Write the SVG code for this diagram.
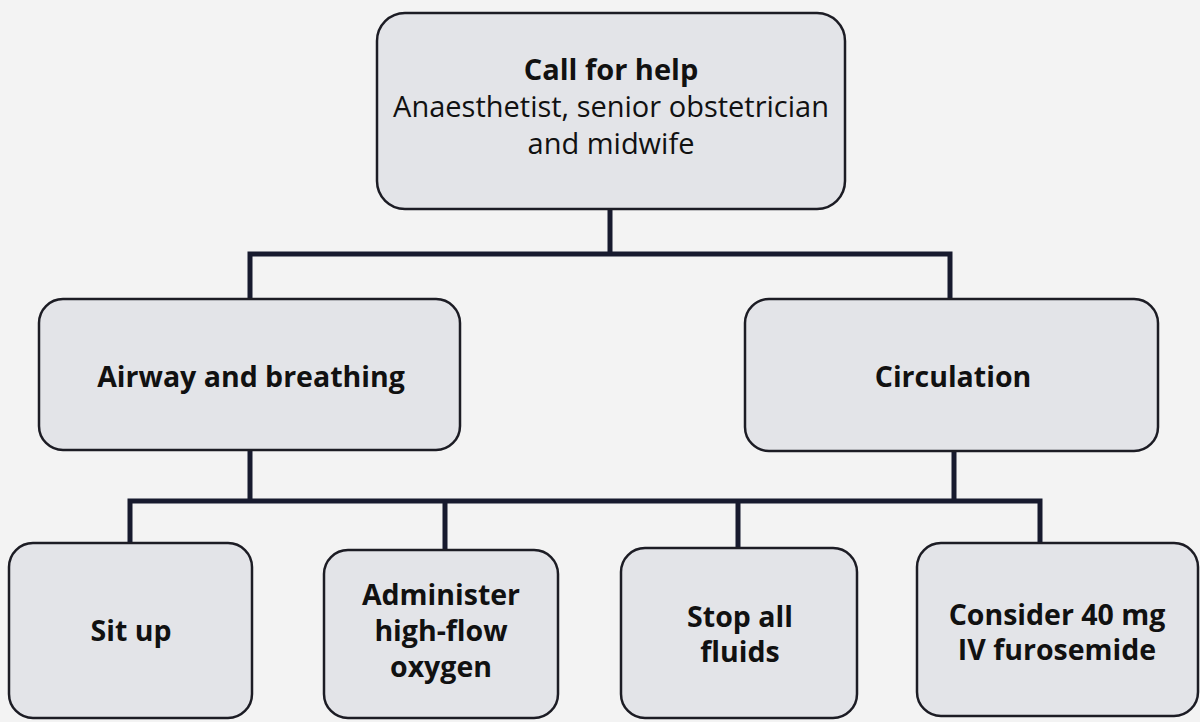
<svg xmlns="http://www.w3.org/2000/svg" width="1200" height="722" viewBox="0 0 1200 722">
<style>
.box{fill:#e3e4e8;stroke:#1c1c24;stroke-width:2.5}
.conn{fill:none;stroke:#171a2e;stroke-width:5;stroke-linejoin:miter;stroke-linecap:square}
text{font-family:"Open Sans","Noto Sans","Liberation Sans",sans-serif;fill:#111;text-anchor:middle}
.b{font-weight:700;font-size:28.5px}
.r{font-weight:400;font-size:29px}
</style>
<rect width="1200" height="722" fill="#f3f3f3"/>
<g id="connectors">
<path class="conn" d="M610 209 V254 M250 299 V254 H950 V299"/>
<path class="conn" d="M250 450 V501 M954 451 V501 M130 543 V501 H1040 V543 M445 550 V501 M738 548 V501"/>
</g>
<g id="call-for-help">
<rect class="box" x="377" y="13" width="468" height="196" rx="28"/>
<text class="b" x="611" y="80" style="font-size:29px">Call for help</text>
<text class="r" x="611" y="117">Anaesthetist, senior obstetrician</text>
<text class="r" x="611" y="154">and midwife</text>
</g>
<g id="airway">
<rect class="box" x="39" y="299" width="421" height="151" rx="24"/>
<text class="b" x="251" y="387">Airway and breathing</text>
</g>
<g id="circulation">
<rect class="box" x="745" y="299" width="413" height="152" rx="24"/>
<text class="b" x="953" y="387">Circulation</text>
</g>
<g id="sit-up">
<rect class="box" x="9" y="543" width="243" height="175" rx="24"/>
<text class="b" x="131" y="641">Sit up</text>
</g>
<g id="oxygen">
<rect class="box" x="324" y="550" width="234" height="168" rx="24"/>
<text class="b" x="441" y="605">Administer</text>
<text class="b" x="441" y="641">high-flow</text>
<text class="b" x="441" y="677">oxygen</text>
</g>
<g id="fluids">
<rect class="box" x="621" y="548" width="236" height="170" rx="24"/>
<text class="b" x="740" y="627">Stop all</text>
<text class="b" x="740" y="662">fluids</text>
</g>
<g id="furosemide">
<rect class="box" x="917" y="543" width="281" height="173" rx="24"/>
<text class="b" x="1057" y="625">Consider 40 mg</text>
<text class="b" x="1057" y="660">IV furosemide</text>
</g>
</svg>
